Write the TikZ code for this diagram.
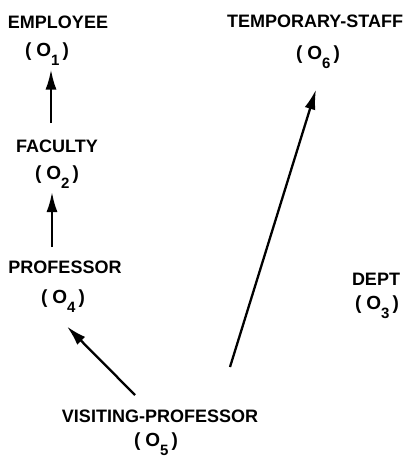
\documentclass[tikz,border=0pt]{standalone}
\usepackage{fontspec}
\setmainfont{Liberation Sans}
\usetikzlibrary{arrows.meta,calc}
\newcommand{\objid}[1]{{\fontsize{19}{19}\selectfont(\hspace{5pt}O\raisebox{-9pt}{\fontsize{15}{15}\selectfont #1}\hspace{3pt})}}
\begin{document}
\begin{tikzpicture}[x=1pt, y=-1pt, line width=2.3pt,
  lbl/.style={inner sep=0pt, anchor=base, font=\bfseries\fontsize{18}{18}\selectfont},
  isa/.style={->, >={Latex[length=20pt,width=11pt]}}]
  \useasboundingbox (0,0) rectangle (407,461);
  % objects
  \node[lbl] (emp) at (58,28) {EMPLOYEE};
  \node[lbl] (o1) at (47,56.5) {\objid{1}};
  \node[lbl] (fac) at (57,152) {FACULTY};
  \node[lbl] (o2) at (57,179.5) {\objid{2}};
  \node[lbl] (prof) at (65,273) {PROFESSOR};
  \node[lbl] (o4) at (63,303.5) {\objid{4}};
  \node[lbl] (vp) at (160,422) {VISITING-PROFESSOR};
  \node[lbl] (o5) at (156,446.5) {\objid{5}};
  \node[lbl] (ts) at (315,27) {TEMPORARY-STAFF};
  \node[lbl] (o6) at (318,59.5) {\objid{6}};
  \node[lbl] (dept) at (376,285) {DEPT};
  \node[lbl] (o3) at (377,309.5) {\objid{3}};
  % is-a links
  \draw[isa] ($(fac.base)+(-6,-29)$) -- ($(o1.base)+(4,13)$);
  \draw[isa] ($(prof.base)+(-13,-26)$) -- ($(o2.base)+(-5,12.5)$);
  \draw[isa] ($(vp.base)+(-25,-27)$) -- ($(o4.base)+(4,23)$);
  \draw[isa] ($(vp.base)+(70,-55)$) -- ($(o6.base)+(-2,30)$);
\end{tikzpicture}
\end{document}
